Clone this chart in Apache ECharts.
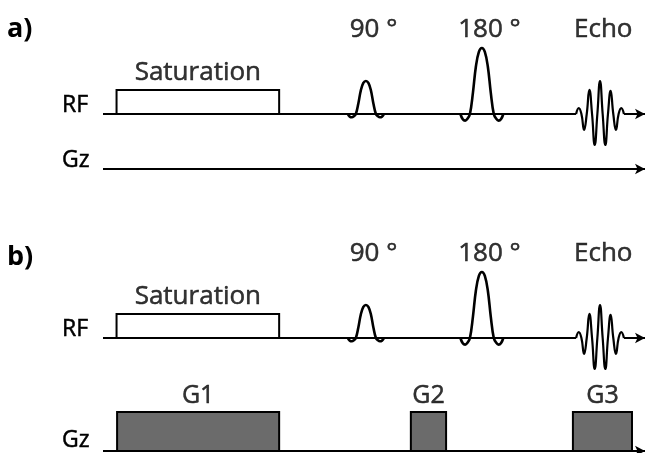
<!DOCTYPE html>
<html>
<head>
<meta charset="utf-8">
<script src="https://cdn.jsdelivr.net/npm/echarts@6/dist/echarts.min.js"></script>
<style>
  html, body { margin: 0; padding: 0; background: #fff; }
  #chart { width: 647px; height: 453px; }
</style>
</head>
<body>
<div id="chart"></div>
<script>
// time runs 0..100 (arbitrary units), amplitudes are per row
var tEnd = 100;
var satStart = 2.5, satEnd = 32.5, satHeight = 0.73;
var pulseNames = ['90 °', '180 °'];
var pulseCenters = [48.5, 69.9];
var pulseAmps = [1, 2];
var pulseHalfWidths = [1.85, 2.2];
// sinc-like shape: offset in half-widths, relative value
var shapeOffsets = [-1.8, -1.6, -1.4, -1.2, -1.0, -0.75, -0.5, -0.25, 0, 0.25, 0.5, 0.75, 1.0, 1.2, 1.4, 1.6, 1.8];
var shapeValues = [0, -0.08, -0.1, -0.07, 0, 0.32, 0.72, 0.94, 1, 0.94, 0.72, 0.32, 0, -0.07, -0.1, -0.08, 0];
var echoName = 'Echo';
var echoCenter = 91.7;
var echoHalfPeriod = 0.98;
var echoPeaks = [0.18, -0.48, 0.73, -0.94, 1.0, -0.94, 0.7, -0.48, 0.18];
var gradNames = ['G1', 'G2', 'G3'];
var gradStarts = [2.6, 56.8, 86.7];
var gradEnds = [32.5, 63.3, 97.6];
var gradAmps = [1, 1, 1];

var FONT = 'Open Sans';
var chart = echarts.init(document.getElementById('chart'));

var echoStart = echoCenter - 4.5 * echoHalfPeriod;
var echoEnd = echoCenter + 4.5 * echoHalfPeriod;

function pulseData(i) {
  var pts = [];
  for (var k = 0; k < shapeOffsets.length; k++) {
    pts.push([pulseCenters[i] + shapeOffsets[k] * pulseHalfWidths[i], shapeValues[k] * pulseAmps[i]]);
  }
  return pts;
}

function echoData() {
  var pts = [[echoStart, 0]];
  for (var i = 0; i < echoPeaks.length; i++) {
    var x = echoCenter + (i - 4) * echoHalfPeriod;
    pts.push([x, echoPeaks[i]]);
    pts.push([x + echoHalfPeriod / 2, 0]);
  }
  return pts;
}

function boxSeries(idx, data, fill) {
  return {
    type: 'custom', xAxisIndex: idx, yAxisIndex: idx, z: 3, clip: false,
    data: data,
    renderItem: function (params, api) {
      var p0 = api.coord([api.value(0), api.value(2)]);
      var p1 = api.coord([api.value(1), 0]);
      return {
        type: 'rect',
        shape: { x: p0[0], y: p0[1], width: p1[0] - p0[0], height: p1[1] - p0[1] },
        style: { fill: fill, stroke: '#000', lineWidth: 2 }
      };
    }
  };
}

function labelSeries(idx, data, size) {
  return {
    type: 'scatter', xAxisIndex: idx, yAxisIndex: idx, clip: false, silent: true,
    symbolSize: 1, itemStyle: { color: 'rgba(0,0,0,0)' },
    data: data,
    label: {
      show: true, position: 'inside', color: '#000',
      fontFamily: FONT, fontSize: size,
      textBorderColor: '#000', textBorderWidth: 0.5,
      formatter: function (p) { return p.value[2]; }
    }
  };
}

function arrowLine(idx, x0, x1) {
  return [
    { coord: [x0, 0], symbol: 'none' },
    { coord: [x1, 0], symbol: 'arrow' }
  ];
}

function rfSeries(idx) {
  var s = [];
  s.push({
    type: 'line', xAxisIndex: idx, yAxisIndex: idx, symbol: 'none', clip: false,
    data: [[0, 0], [echoStart, 0]],
    lineStyle: { color: '#000', width: 2 },
    markLine: {
      silent: true, symbolSize: [8, 10], label: { show: false },
      lineStyle: { color: '#000', width: 2, type: 'solid' },
      data: [arrowLine(idx, echoEnd, tEnd)]
    }
  });
  s.push(boxSeries(idx, [[satStart, satEnd, satHeight]], '#fff'));
  for (var i = 0; i < pulseCenters.length; i++) {
    s.push({
      type: 'line', xAxisIndex: idx, yAxisIndex: idx, symbol: 'none', clip: false,
      smooth: 0.4, z: 4, data: pulseData(i),
      lineStyle: { color: '#000', width: 2.6 }
    });
  }
  s.push({
    type: 'line', xAxisIndex: idx, yAxisIndex: idx, symbol: 'none', clip: false,
    smooth: 0.5, z: 4, data: echoData(),
    lineStyle: { color: '#000', width: 2.2 }
  });
  var labels = [[(satStart + satEnd) / 2, 1.24, 'Saturation']];
  for (var j = 0; j < pulseCenters.length; j++) labels.push([pulseCenters[j] + 1.4, 2.55, pulseNames[j]]);
  labels.push([echoCenter + 0.6, 2.55, echoName]);
  s.push(labelSeries(idx, labels, 26));
  return s;
}

function gzSeries(idx, withGrads) {
  var s = [];
  s.push({
    type: 'line', xAxisIndex: idx, yAxisIndex: idx, symbol: 'none', clip: false,
    data: [], lineStyle: { color: '#000', width: 2 },
    markLine: {
      silent: true, symbolSize: [8, 10], label: { show: false },
      lineStyle: { color: '#000', width: 2, type: 'solid' },
      data: [arrowLine(idx, 0, tEnd)]
    }
  });
  if (withGrads) {
    var boxes = [], labels = [];
    for (var i = 0; i < gradNames.length; i++) {
      boxes.push([gradStarts[i], gradEnds[i], gradAmps[i]]);
      labels.push([(gradStarts[i] + gradEnds[i]) / 2, gradAmps[i] + 0.41, gradNames[i]]);
    }
    s.push(boxSeries(idx, boxes, '#6b6b6b'));
    s.push(labelSeries(idx, labels, 25));
  }
  return s;
}

var grids = [
  { left: 103, right: 2, top: 48, height: 99 },
  { left: 103, right: 2, top: 130, height: 39 },
  { left: 103, right: 2, top: 272, height: 99 },
  { left: 103, right: 2, top: 412, height: 39 }
];
var yRanges = [[-1, 2], [0, 1], [-1, 2], [0, 1]];

var xAxes = [], yAxes = [];
for (var g = 0; g < 4; g++) {
  xAxes.push({ type: 'value', gridIndex: g, min: 0, max: tEnd, show: false });
  yAxes.push({ type: 'value', gridIndex: g, min: yRanges[g][0], max: yRanges[g][1], show: false });
}

function txt(x, y, s, size, bold) {
  return {
    type: 'text', x: x, y: y,
    style: {
      text: s, fill: '#000', stroke: '#000', lineWidth: bold ? 0 : 0.5,
      font: (bold ? 'bold ' : '') + size + 'px "' + FONT + '"', textVerticalAlign: 'middle'
    }
  };
}

chart.setOption({
  animation: false,
  backgroundColor: '#fff',
  grid: grids,
  xAxis: xAxes,
  yAxis: yAxes,
  graphic: [
    txt(7, 29, 'a)', 27, true),
    txt(7, 257, 'b)', 27, true),
    txt(62, 105, 'RF', 23),
    txt(62, 160, 'Gz', 23),
    txt(62, 329, 'RF', 23),
    txt(62, 440, 'Gz', 23)
  ],
  series: [].concat(rfSeries(0), gzSeries(1, false), rfSeries(2), gzSeries(3, true))
});
</script>
</body>
</html>
